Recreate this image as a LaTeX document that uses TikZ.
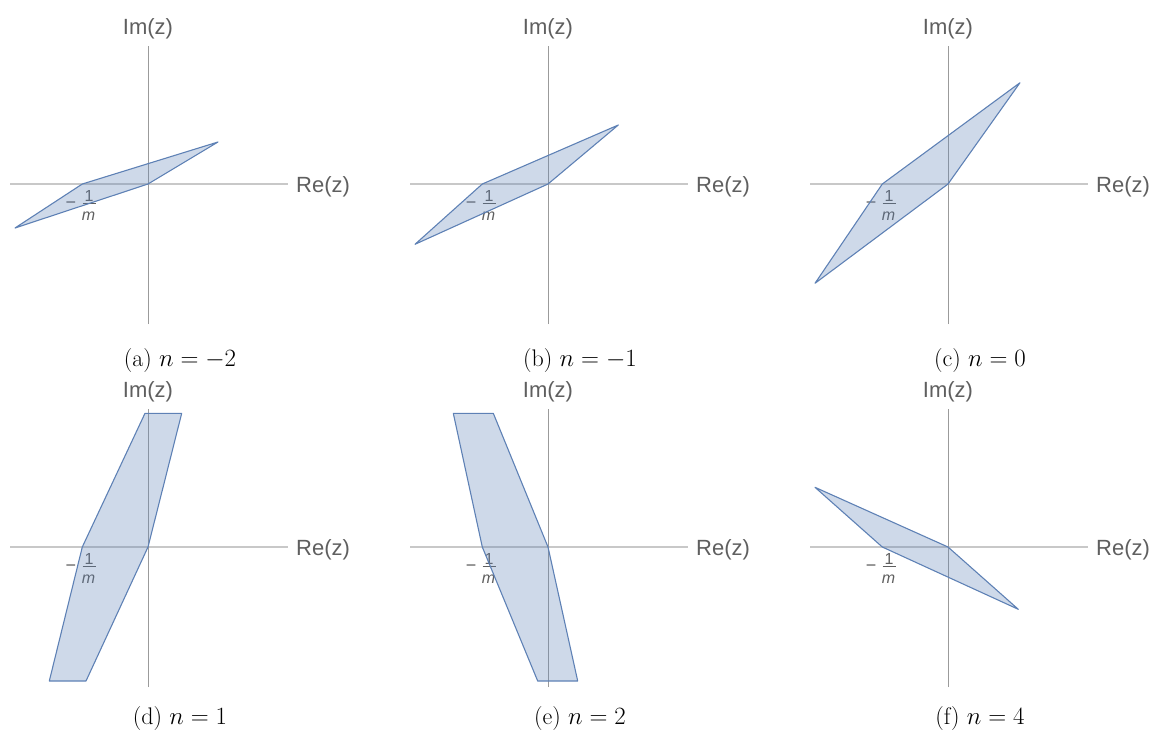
\documentclass[tikz,border=0pt]{standalone}
\usepackage{fontspec}
\newfontfamily\axfont{Liberation Sans}
\definecolor{mblue}{RGB}{94,129,181}
\definecolor{labgray}{RGB}{95,95,95}
\definecolor{axh}{RGB}{200,200,200}
\definecolor{axv}{RGB}{155,155,155}
\tikzset{
  axhline/.style={draw=axh, line width=1.4pt},
  axvline/.style={draw=axv, line width=0.7pt},
  region/.style={draw=mblue, fill=mblue, fill opacity=0.3, line width=1.1pt, line join=round},
  axlab/.style={text=labgray, inner sep=0pt, font=\axfont\fontsize{22}{22}\selectfont},
  smlab/.style={text=labgray, inner sep=0pt, font=\axfont\fontsize{16}{16}\selectfont},
  capt/.style={inner sep=0pt, anchor=base, font=\fontsize{24}{28}\selectfont}
}
\newcommand\planeaxes[1]{%
  \draw[axhline] (-138,0) coordinate (#1hl) -- (140,0) coordinate (#1hr);
  \draw[axvline] (0,-140) coordinate (#1vb) -- (0,138) coordinate (#1vt);
  \node[axlab, anchor=base] (#1im) at (0,150) {Im(z)};
  \node[axlab, anchor=base west] (#1re) at (148,-8.5) {Re(z)};
  \node[smlab, font=\axfont\fontsize{18}{18}\selectfont] (#1minus) at (-77,-21) {−};
  \node[smlab] (#1one) at (-59,-12) {1};
  \node[smlab] (#1m) at (-59.5,-32) {\itshape m};
  \draw[labgray, line width=0.9pt] (-65.5,-19.5) -- (-52.5,-19.5);
}
\begin{document}
\begin{tikzpicture}[x=1pt,y=-1pt]
\useasboundingbox (0,0) rectangle (1161,742);
% (a)
\begin{scope}[shift={(148,184)}, yscale=-1]
  \planeaxes{a}
  \fill[region] (-65.7,0) -- (70,42) -- (0,0) -- (-133,-44) -- cycle;
  \node[capt] (capa) at (32,-182) {(a) $n=-2$};
\end{scope}
% (b)
\begin{scope}[shift={(548,184)}, yscale=-1]
  \planeaxes{b}
  \fill[region] (-65.7,0) -- (70.3,59) -- (0,0) -- (-133,-60.3) -- cycle;
  \node[capt] (capb) at (32,-182) {(b) $n=-1$};
\end{scope}
% (c)
\begin{scope}[shift={(948,184)}, yscale=-1]
  \planeaxes{c}
  \fill[region] (-65.7,0) -- (72,101.3) -- (0,0) -- (-133,-99.3) -- cycle;
  \node[capt] (capc) at (32,-182) {(c) $n=0$};
\end{scope}
% (d)
\begin{scope}[shift={(148,547)}, yscale=-1]
  \planeaxes{d}
  \fill[region] (-65.7,0) -- (-3,133.7) -- (33.7,133.7) -- (0,0) -- (-62,-134) -- (-98.7,-134) -- cycle;
  \node[capt] (capd) at (32,-177) {(d) $n=1$};
\end{scope}
% (e)
\begin{scope}[shift={(548,547)}, yscale=-1]
  \planeaxes{e}
  \fill[region] (-65.7,0) -- (-94.7,133.7) -- (-54.7,133.7) -- (0,0) -- (29.7,-134) -- (-10.3,-134) -- cycle;
  \node[capt] (cape) at (32,-177) {(e) $n=2$};
\end{scope}
% (f)
\begin{scope}[shift={(948,547)}, yscale=-1]
  \planeaxes{f}
  \fill[region] (-133,59.7) -- (0,0) -- (70.3,-62.3) -- (-65.7,0) -- cycle;
  \node[capt] (capf) at (32,-177) {(f) $n=4$};
\end{scope}
\end{tikzpicture}
\end{document}
